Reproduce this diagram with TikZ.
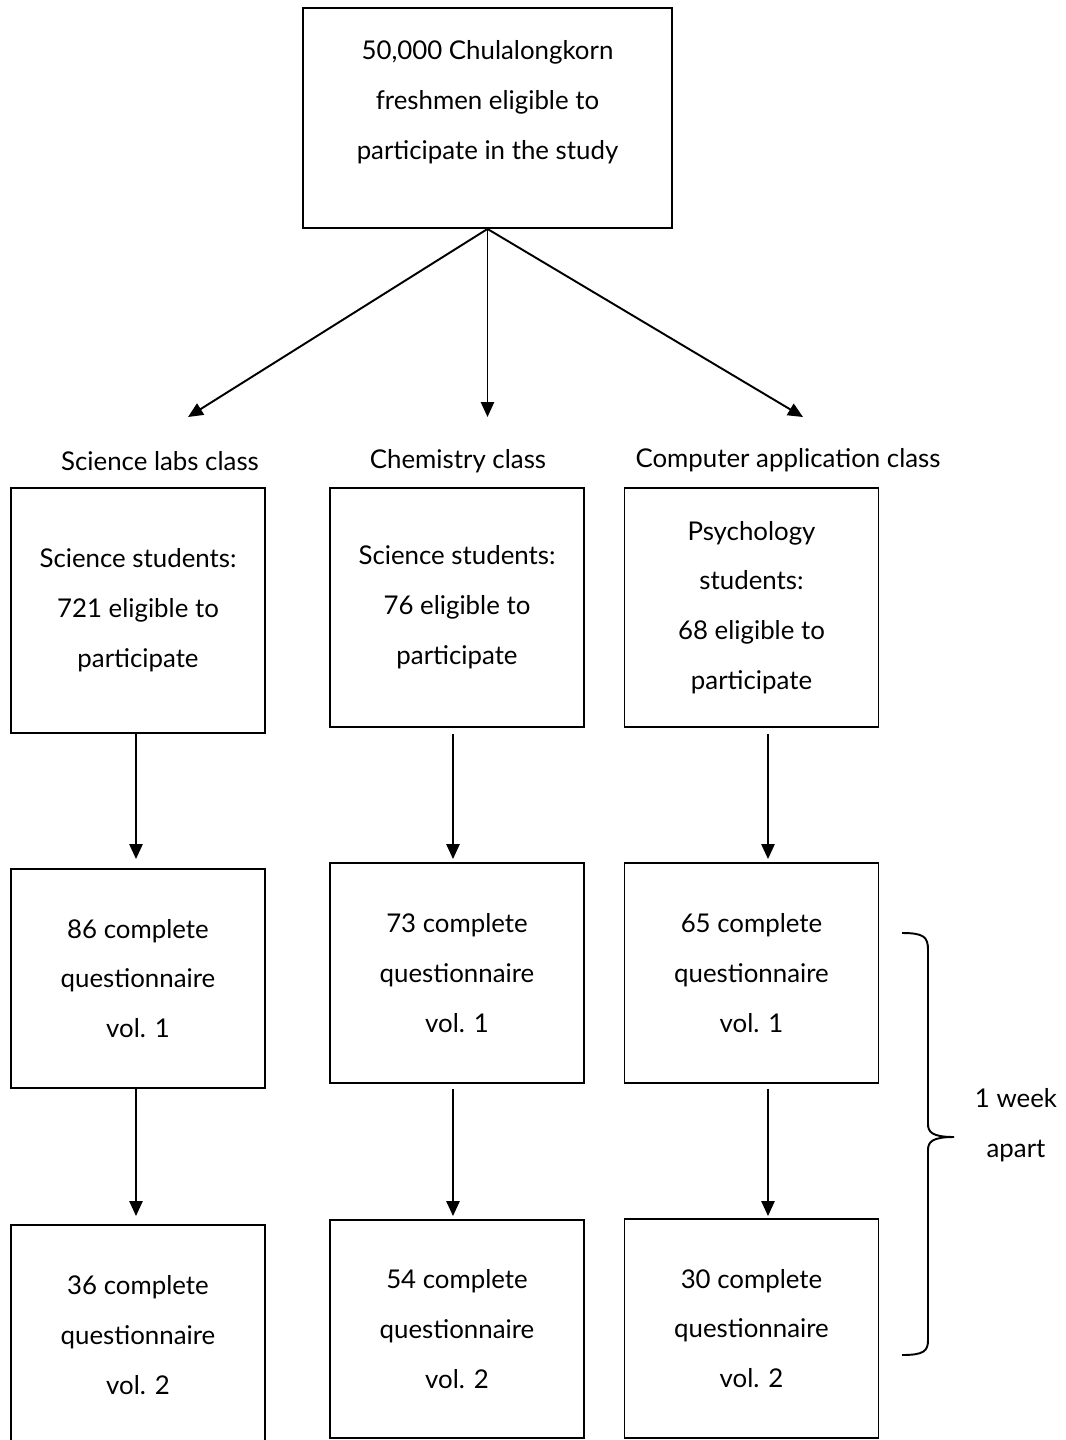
\documentclass[tikz,border=0pt]{standalone}
\usepackage{fontspec}
\setmainfont{Lato}
\usetikzlibrary{arrows.meta}

\tikzset{
	box/.style={draw, line width=1.1pt, minimum width=5.08cm, inner sep=0pt, align=center},
	arr/.style={line width=1.1pt, -{Triangle[length=8.5pt,width=7.5pt]}},
	txt/.style={align=center, inner sep=0pt}
}

\begin{document}
\begin{tikzpicture}[x=0.02cm, y=0.02cm, font=\fontsize{14.7pt}{28.35pt}\selectfont]

	\useasboundingbox (0,0) rectangle (1065,-1440);

	% Riquadro in alto
	\node (top) at (487.5,-118) [box, minimum width=7.38cm, minimum height=4.4cm] {};
	\node (toptext) at (487.5,-102) [txt] {50,000 Chulalongkorn\\freshmen eligible to\\participate in the study};

	% Tre frecce verso le classi
	\coordinate (a1) at (188,-417);
	\coordinate (a2) at (487.5,-417);
	\coordinate (a3) at (803,-417);
	\foreach \t in {a1,a2,a3}
	\draw[arr] (top.south) -- (\t);

	% Nomi delle classi
	\node (lab1) at (160,-461) [txt] {Science labs class};
	\node (lab2) at (458,-461) [txt] {Chemistry class};
	\node (lab3) at (788,-460) [txt] {Computer application class};

	% Prima riga
	\node (s1) at (138,-610.5) [box, minimum height=4.9cm] {Science students:\\721 eligible to\\participate};
	\node (c1) at (457,-607.5) [box, minimum height=4.78cm] {Science students:\\76 eligible to\\participate};
	\node (p1) at (751.5,-607.5) [box, minimum height=4.78cm] {Psychology\\students:\\68 eligible to\\participate};

	% Seconda riga
	\node (s2) at (138,-978.5) [box, minimum height=4.38cm] {86 complete\\questionnaire\\vol. 1};
	\node (c2) at (457,-973) [box, minimum height=4.4cm] {73 complete\\questionnaire\\vol. 1};
	\node (p2) at (751.5,-973) [box, minimum height=4.4cm] {65 complete\\questionnaire\\vol. 1};

	% Terza riga
	\node (s3) at (138,-1335) [box, minimum height=4.4cm] {36 complete\\questionnaire\\vol. 2};
	\node (c3) at (457,-1329) [box, minimum height=4.36cm] {54 complete\\questionnaire\\vol. 2};
	\node (p3) at (751.5,-1328.5) [box, minimum height=4.38cm] {30 complete\\questionnaire\\vol. 2};

	% Frecce verticali
	\draw[arr] ([shift={(-2,0)}]s1.south) -- ([shift={(-2,9)}]s2.north);
	\draw[arr] ([shift={(-2,0)}]s2.south) -- ([shift={(-2,8)}]s3.north);
	\draw[arr] ([shift={(-4,-6)}]c1.south) -- ([shift={(-4,3)}]c2.north);
	\draw[arr] ([shift={(-4,-5)}]c2.south) -- ([shift={(-4,3)}]c3.north);
	\draw[arr] ([shift={(16.5,-6)}]p1.south) -- ([shift={(16.5,3)}]p2.north);
	\draw[arr] ([shift={(16.5,-5)}]p2.south) -- ([shift={(16.5,2)}]p3.north);

	% Parentesi graffa
	\draw[line width=1.1pt] (902,-933) .. controls (924,-933) and (928,-937) .. (928,-950)
		-- (928,-1124) .. controls (928,-1132) and (932,-1137) .. (954,-1137)
		.. controls (932,-1137) and (928,-1142) .. (928,-1150)
		-- (928,-1340) .. controls (928,-1351) and (924,-1355) .. (902,-1355);
	\node (week) at (1016,-1125) [txt] {1 week\\apart};

\end{tikzpicture}
\end{document}
